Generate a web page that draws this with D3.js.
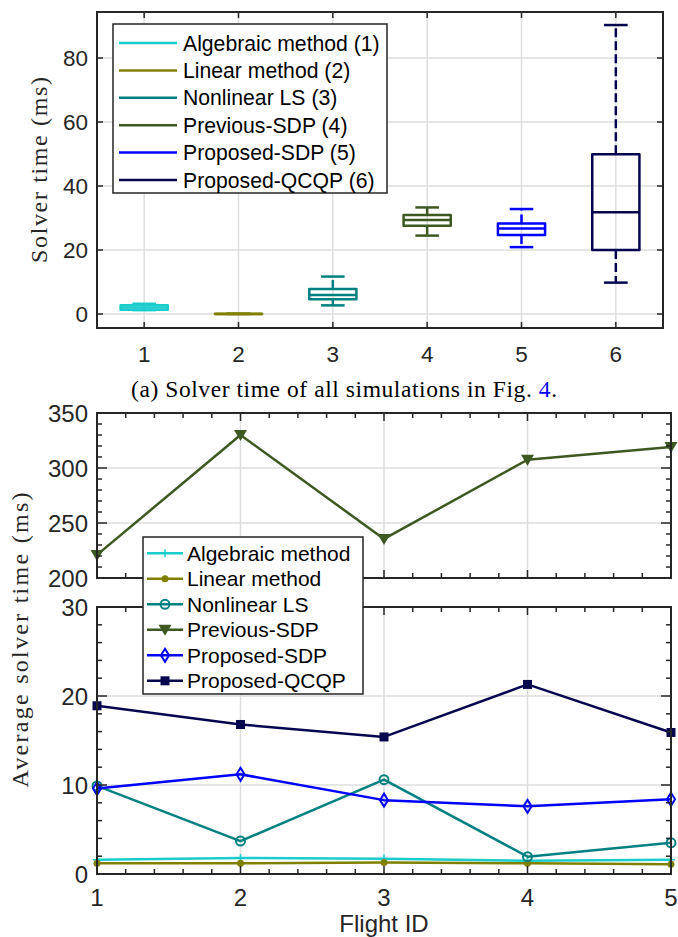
<!DOCTYPE html>
<html>
<head>
<meta charset="utf-8">
<script src="https://cdn.jsdelivr.net/npm/d3@7"></script>
<style>
  body { margin: 0; background: #fff; }
  svg { display: block; }
</style>
</head>
<body>
<svg id="chart" width="678" height="937"></svg>
<script>
// ---- data: (a) box plot of solver time ----
const BOX_IDS = [1, 2, 3, 4, 5, 6];
const BOX_NAMES = ['Algebraic method (1)', 'Linear method (2)', 'Nonlinear LS (3)',
  'Previous-SDP (4)', 'Proposed-SDP (5)', 'Proposed-QCQP (6)'];
const WHISKER_LO = [1.2, 0, 2.7, 24.5, 20.9, 9.8];
const Q1 = [1.3, 0, 4.6, 27.6, 24.7, 20.0];
const MEDIAN = [2.0, 0, 5.9, 29.4, 26.7, 31.8];
const Q3 = [2.7, 0.1, 7.8, 30.9, 28.3, 49.9];
const WHISKER_HI = [3.2, 0.1, 11.7, 33.3, 32.8, 90.3];
const BOX_Y_TICKS = [0, 20, 40, 60, 80];

// ---- data: (b) average solver time per flight ----
const FLIGHT_IDS = [1, 2, 3, 4, 5];
const SERIES_NAMES = ['Algebraic method', 'Linear method', 'Nonlinear LS',
  'Previous-SDP', 'Proposed-SDP', 'Proposed-QCQP'];
const ALGEBRAIC = [1.6, 1.8, 1.7, 1.5, 1.6];
const LINEAR = [1.2, 1.2, 1.3, 1.2, 1.1];
const NONLINEAR_LS = [9.9, 3.7, 10.6, 1.95, 3.5];
const PREVIOUS_SDP = [221, 330, 235.5, 307.5, 319];
const PROPOSED_SDP = [9.6, 11.2, 8.3, 7.6, 8.4];
const PROPOSED_QCQP = [18.9, 16.8, 15.4, 21.3, 15.9];
const UPPER_Y_TICKS = [200, 250, 300, 350];
const LOWER_Y_TICKS = [0, 10, 20, 30];

const COLORS = ['#1acccc', '#808000', '#008080', '#3d5921', '#0000ff', '#06064f'];
const MARKERS = ['plus', 'dot', 'circle', 'triangle', 'diamond', 'square'];
const AX = '#262626';
const GRID = '#dedede';
const SANS = '"Liberation Sans", Arial, sans-serif';
const SERIF = '"Liberation Serif", "Times New Roman", serif';

var svg = d3.select('#chart');

// grid lines behind the data
function grid(g, x, y, xTicks, yTicks) {
  var x0 = x.range()[0], x1 = x.range()[1];
  var y0 = y.range()[0], y1 = y.range()[1];
  g.append('g').selectAll('line').data(xTicks).enter().append('line')
    .attr('x1', d => x(d)).attr('x2', d => x(d)).attr('y1', y0).attr('y2', y1)
    .attr('stroke', GRID).attr('stroke-width', 1.5);
  g.append('g').selectAll('line').data(yTicks).enter().append('line')
    .attr('y1', d => y(d)).attr('y2', d => y(d)).attr('x1', x0).attr('x2', x1)
    .attr('stroke', GRID).attr('stroke-width', 1.5);
}

// framed box with inward ticks on all four sides
function frameTicks(g, x, y, xTicks, yTicks, opts) {
  var x0 = x.range()[0], x1 = x.range()[1];
  var y0 = y.range()[0], y1 = y.range()[1];
  var t = g.append('g').attr('stroke', AX).attr('stroke-width', 1.5);
  function xt(list, len) {
    list.forEach(function(d) {
      t.append('line').attr('x1', x(d)).attr('x2', x(d)).attr('y1', y0).attr('y2', y0 - len);
      t.append('line').attr('x1', x(d)).attr('x2', x(d)).attr('y1', y1).attr('y2', y1 + len);
    });
  }
  function yt(list, len) {
    list.forEach(function(d) {
      t.append('line').attr('y1', y(d)).attr('y2', y(d)).attr('x1', x0).attr('x2', x0 + len);
      t.append('line').attr('y1', y(d)).attr('y2', y(d)).attr('x1', x1).attr('x2', x1 - len);
    });
  }
  xt(xTicks, opts.xLen);
  yt(yTicks, opts.yLen);
  if (opts.xMinor) xt(opts.xMinor, opts.minorLen);
  if (opts.yMinor) yt(opts.yMinor, opts.minorLen);
  g.append('rect').attr('x', x0).attr('y', y1).attr('width', x1 - x0).attr('height', y0 - y1)
    .attr('fill', 'none').attr('stroke', AX).attr('stroke-width', 2);
}

function yLabels(g, y, ticks, xPos, size) {
  g.append('g').selectAll('text').data(ticks).enter().append('text')
    .attr('x', xPos).attr('y', d => y(d) + size * 0.36)
    .attr('text-anchor', 'end').attr('font-family', SANS).attr('font-size', size)
    .attr('fill', AX).text(d => d);
}

// ================= (a) box plot =================
var bx = d3.scaleLinear().domain([0.5, 6.5]).range([97, 663]);
var by = d3.scaleLinear().domain([-4.375, 94.375]).range([328, 12]);
var topG = svg.append('g');

grid(topG, bx, by, BOX_IDS, BOX_Y_TICKS);

var boxW = bx(1) - bx(0.5);
var capW = bx(0.75) - bx(0.5);
var boxes = topG.append('g').selectAll('g').data(BOX_IDS).enter().append('g')
  .attr('stroke', (d, i) => COLORS[i]).attr('stroke-width', 2.5).attr('fill', 'none');

boxes.append('line')
  .attr('x1', d => bx(d)).attr('x2', d => bx(d))
  .attr('y1', (d, i) => by(Q3[i])).attr('y2', (d, i) => by(WHISKER_HI[i]))
  .attr('stroke-dasharray', '9,4');
boxes.append('line')
  .attr('x1', d => bx(d)).attr('x2', d => bx(d))
  .attr('y1', (d, i) => by(Q1[i])).attr('y2', (d, i) => by(WHISKER_LO[i]))
  .attr('stroke-dasharray', '9,4');
boxes.append('line')
  .attr('x1', d => bx(d) - capW / 2).attr('x2', d => bx(d) + capW / 2)
  .attr('y1', (d, i) => by(WHISKER_HI[i])).attr('y2', (d, i) => by(WHISKER_HI[i]));
boxes.append('line')
  .attr('x1', d => bx(d) - capW / 2).attr('x2', d => bx(d) + capW / 2)
  .attr('y1', (d, i) => by(WHISKER_LO[i])).attr('y2', (d, i) => by(WHISKER_LO[i]));
boxes.append('rect')
  .attr('x', d => bx(d) - boxW / 2).attr('width', boxW)
  .attr('y', (d, i) => by(Q3[i])).attr('height', (d, i) => by(Q1[i]) - by(Q3[i]))
  .attr('stroke-linejoin', 'round');
boxes.append('line')
  .attr('x1', d => bx(d) - boxW / 2).attr('x2', d => bx(d) + boxW / 2)
  .attr('y1', (d, i) => by(MEDIAN[i])).attr('y2', (d, i) => by(MEDIAN[i]));

frameTicks(topG, bx, by, BOX_IDS, BOX_Y_TICKS, { xLen: 6, yLen: 6 });
yLabels(topG, by, BOX_Y_TICKS, 88, 22.5);

topG.append('g').selectAll('text').data(BOX_IDS).enter().append('text')
  .attr('x', d => bx(d)).attr('y', 362)
  .attr('text-anchor', 'middle').attr('font-family', SANS).attr('font-size', 22.5)
  .attr('fill', AX).text(d => d);

topG.append('text')
  .attr('transform', 'translate(47,170) rotate(-90)')
  .attr('text-anchor', 'middle').attr('font-family', SERIF).attr('font-size', 24)
  .attr('textLength', 186).attr('lengthAdjust', 'spacing')
  .attr('fill', AX).text('Solver time (ms)');

// legend of (a)
var lg = topG.append('g');
lg.append('rect').attr('x', 113).attr('y', 24).attr('width', 274).attr('height', 169)
  .attr('fill', '#fff').attr('stroke', AX).attr('stroke-width', 1.5);
BOX_NAMES.forEach(function(name, i) {
  var yy = 43 + i * 27.4;
  lg.append('line').attr('x1', 119).attr('x2', 177).attr('y1', yy).attr('y2', yy)
    .attr('stroke', COLORS[i]).attr('stroke-width', 2.5);
  lg.append('text').attr('x', 183).attr('y', yy + 7.5)
    .attr('font-family', SANS).attr('font-size', 21.2).attr('fill', '#000').text(name);
});

// caption
var cap = svg.append('text').attr('x', 131).attr('y', 397)
  .attr('font-family', SERIF).attr('font-size', 23.5).attr('fill', '#000')
  .attr('textLength', 426).attr('lengthAdjust', 'spacing');
cap.append('tspan').text('(a) Solver time of all simulations in Fig. ');
cap.append('tspan').attr('fill', '#0000ff').text('4');
cap.append('tspan').text('.');

// ================= (b) average solver time =================
var lx = d3.scaleLinear().domain([1, 5]).range([97, 671]);
var uy = d3.scaleLinear().domain([200, 350]).range([578, 413]);
var dy = d3.scaleLinear().domain([0, 30]).range([874, 607]);

var upper = svg.append('g');
var lower = svg.append('g');

grid(upper, lx, uy, FLIGHT_IDS, UPPER_Y_TICKS);
grid(lower, lx, dy, FLIGHT_IDS, LOWER_Y_TICKS);

var defs = svg.append('defs');
defs.append('clipPath').attr('id', 'clipU').append('rect')
  .attr('x', 80).attr('y', 413).attr('width', 610).attr('height', 165);
defs.append('clipPath').attr('id', 'clipL').append('rect')
  .attr('x', 80).attr('y', 607).attr('width', 610).attr('height', 267);

var ALL = [ALGEBRAIC, LINEAR, NONLINEAR_LS, PREVIOUS_SDP, PROPOSED_SDP, PROPOSED_QCQP];

function marker(sel, type, color) {
  if (type === 'plus') {
    sel.append('path').attr('d', 'M-4,0H4M0,-4V4').attr('stroke', color).attr('stroke-width', 1.5).attr('fill', 'none');
  } else if (type === 'dot') {
    sel.append('circle').attr('r', 3.5).attr('fill', color);
  } else if (type === 'circle') {
    sel.append('circle').attr('r', 4.5).attr('fill', 'none').attr('stroke', color).attr('stroke-width', 2);
  } else if (type === 'triangle') {
    sel.append('path').attr('d', 'M-6.5,-5L6.5,-5L0,6Z').attr('fill', color);
  } else if (type === 'diamond') {
    sel.append('path').attr('d', 'M0,-6.5L4,0L0,6.5L-4,0Z').attr('fill', 'none').attr('stroke', color).attr('stroke-width', 2);
  } else if (type === 'square') {
    sel.append('rect').attr('x', -4.5).attr('y', -4.5).attr('width', 9).attr('height', 9).attr('fill', color);
  }
}

function drawSeries(g, y, clip) {
  var layer = g.append('g').attr('clip-path', 'url(#' + clip + ')');
  ALL.forEach(function(vals, i) {
    var line = d3.line().x((d, j) => lx(FLIGHT_IDS[j])).y(d => y(d));
    layer.append('path').datum(vals).attr('d', line)
      .attr('fill', 'none').attr('stroke', COLORS[i]).attr('stroke-width', 2.5)
      .attr('stroke-linejoin', 'round');
    vals.forEach(function(v, j) {
      var m = layer.append('g').attr('transform', 'translate(' + lx(FLIGHT_IDS[j]) + ',' + y(v) + ')');
      marker(m, MARKERS[i], COLORS[i]);
    });
  });
}

drawSeries(upper, uy, 'clipU');
drawSeries(lower, dy, 'clipL');

var xMinor = d3.range(1, 5.01, 0.2).filter(d => Math.abs(d - Math.round(d)) > 1e-6);
frameTicks(upper, lx, uy, FLIGHT_IDS, UPPER_Y_TICKS, {
  xLen: 8, yLen: 10, minorLen: 5,
  xMinor: xMinor, yMinor: d3.range(200, 351, 10).filter(d => d % 50 !== 0)
});
frameTicks(lower, lx, dy, FLIGHT_IDS, LOWER_Y_TICKS, {
  xLen: 8, yLen: 10, minorLen: 5,
  xMinor: xMinor, yMinor: d3.range(0, 31, 2).filter(d => d % 10 !== 0)
});

yLabels(upper, uy, UPPER_Y_TICKS, 88, 24);
yLabels(lower, dy, LOWER_Y_TICKS, 88, 24);

lower.append('g').selectAll('text').data(FLIGHT_IDS).enter().append('text')
  .attr('x', d => lx(d)).attr('y', 906)
  .attr('text-anchor', 'middle').attr('font-family', SANS).attr('font-size', 24)
  .attr('fill', AX).text(d => d);

svg.append('text').attr('x', 384).attr('y', 932)
  .attr('text-anchor', 'middle').attr('font-family', SANS).attr('font-size', 24)
  .attr('fill', AX).text('Flight ID');

svg.append('text')
  .attr('transform', 'translate(28,640) rotate(-90)')
  .attr('text-anchor', 'middle').attr('font-family', SERIF).attr('font-size', 24)
  .attr('textLength', 295).attr('lengthAdjust', 'spacing')
  .attr('fill', AX).text('Average solver time (ms)');

// legend of (b), drawn over both axes
var lg2 = svg.append('g');
lg2.append('rect').attr('x', 143).attr('y', 537).attr('width', 220).attr('height', 157)
  .attr('fill', '#fff').attr('stroke', AX).attr('stroke-width', 1.5);
SERIES_NAMES.forEach(function(name, i) {
  var yy = 553.3 + i * 25.5;
  lg2.append('line').attr('x1', 147).attr('x2', 183).attr('y1', yy).attr('y2', yy)
    .attr('stroke', COLORS[i]).attr('stroke-width', 2.5);
  marker(lg2.append('g').attr('transform', 'translate(165,' + yy + ')'), MARKERS[i], COLORS[i]);
  lg2.append('text').attr('x', 187).attr('y', yy + 7.6)
    .attr('font-family', SANS).attr('font-size', 21).attr('fill', '#000').text(name);
});
</script>
</body>
</html>
